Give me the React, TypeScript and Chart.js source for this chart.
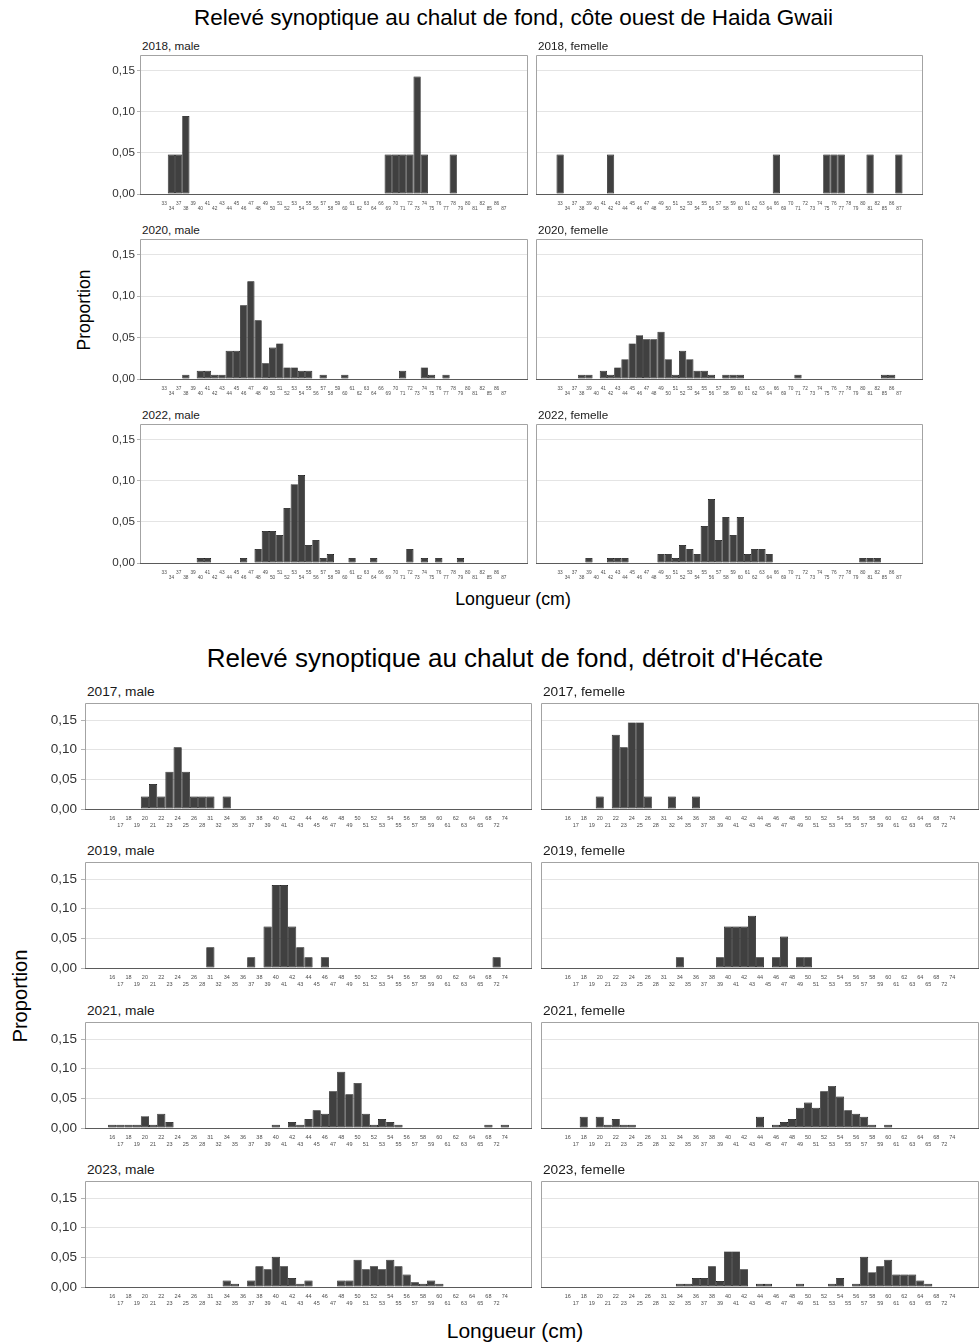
import React, { useEffect, useRef } from 'react';
import { Chart, registerables } from 'chart.js';

Chart.register(...registerables);

const FONT = '"Liberation Sans", Arial, Helvetica, sans-serif';

// ---------- categories (length classes, cm) ----------
const HG_LENGTHS = ['33','34','37','38','39','40','41','42','43','44','45','46','47','48','49','50','51','52','53','54','55','56','57','58','59','60','61','62','63','64','66','69','70','71','72','73','74','75','76','77','78','79','80','81','82','85','86','87'];
const HS_LENGTHS = ['16','17','18','19','20','21','22','23','24','25','26','28','31','32','34','35','36','37','38','39','40','41','42','43','44','45','46','47','48','49','50','51','52','53','54','55','56','57','58','59','60','61','62','63','64','65','68','72','74'];

const Y_TICKS = [0, 0.05, 0.1, 0.15];

// ---------- Haida Gwaii (côte ouest) : [longueur, proportion] ----------
const HG_2018_MALE = [[34,0.048],[37,0.048],[38,0.095],[69,0.048],[70,0.048],[71,0.048],[72,0.048],[73,0.143],[74,0.048],[78,0.048]];
const HG_2018_FEMELLE = [[33,0.048],[42,0.048],[66,0.048],[75,0.048],[76,0.048],[77,0.048],[81,0.048],[87,0.048]];
const HG_2020_MALE = [[38,0.005],[40,0.01],[41,0.01],[42,0.005],[43,0.005],[44,0.034],[45,0.034],[46,0.089],[47,0.118],[48,0.071],[49,0.019],[50,0.038],[51,0.043],[52,0.014],[53,0.014],[54,0.01],[55,0.01],[57,0.005],[60,0.005],[71,0.01],[74,0.014],[75,0.005],[77,0.005]];
const HG_2020_FEMELLE = [[38,0.005],[39,0.005],[41,0.01],[42,0.005],[43,0.014],[44,0.024],[45,0.043],[46,0.053],[47,0.048],[48,0.048],[49,0.057],[50,0.024],[51,0.005],[52,0.034],[53,0.024],[54,0.01],[55,0.01],[56,0.005],[58,0.005],[59,0.005],[60,0.005],[71,0.005],[85,0.005],[86,0.005]];
const HG_2022_MALE = [[40,0.006],[41,0.006],[46,0.006],[48,0.017],[49,0.039],[50,0.039],[51,0.034],[52,0.067],[53,0.096],[54,0.107],[55,0.022],[56,0.028],[57,0.006],[58,0.011],[61,0.006],[64,0.006],[72,0.017],[74,0.006],[76,0.006],[79,0.006]];
const HG_2022_FEMELLE = [[39,0.006],[42,0.006],[43,0.006],[44,0.006],[49,0.011],[50,0.011],[51,0.006],[52,0.022],[53,0.017],[54,0.011],[55,0.045],[56,0.078],[57,0.028],[58,0.056],[59,0.034],[60,0.056],[61,0.011],[62,0.017],[63,0.017],[64,0.011],[80,0.006],[81,0.006],[82,0.006]];

// ---------- Détroit d'Hécate : [longueur, proportion] ----------
const HS_2017_MALE = [[20,0.021],[21,0.042],[22,0.021],[23,0.063],[24,0.104],[25,0.063],[26,0.021],[28,0.021],[31,0.021],[34,0.021]];
const HS_2017_FEMELLE = [[20,0.021],[22,0.125],[23,0.104],[24,0.146],[25,0.146],[26,0.021],[32,0.021],[36,0.021]];
const HS_2019_MALE = [[31,0.035],[37,0.018],[39,0.07],[40,0.14],[41,0.14],[42,0.07],[43,0.035],[44,0.018],[46,0.018],[72,0.018]];
const HS_2019_FEMELLE = [[34,0.018],[39,0.018],[40,0.07],[41,0.07],[42,0.07],[43,0.088],[44,0.018],[46,0.018],[47,0.053],[49,0.018],[50,0.018]];
const HS_2021_MALE = [[16,0.0055],[17,0.0055],[18,0.0055],[19,0.0055],[20,0.02],[21,0.0055],[22,0.024],[23,0.01],[40,0.0055],[42,0.01],[43,0.0055],[44,0.015],[45,0.03],[46,0.024],[47,0.062],[48,0.095],[49,0.057],[50,0.076],[51,0.024],[52,0.0055],[53,0.015],[54,0.01],[55,0.0055],[68,0.0055],[74,0.0055]];
const HS_2021_FEMELLE = [[18,0.019],[20,0.019],[21,0.0055],[22,0.015],[23,0.0055],[24,0.0055],[44,0.019],[46,0.0055],[47,0.01],[48,0.015],[49,0.034],[50,0.043],[51,0.034],[52,0.062],[53,0.071],[54,0.053],[55,0.03],[56,0.024],[57,0.019],[58,0.0055],[60,0.0055]];
const HS_2023_MALE = [[34,0.011],[35,0.0055],[37,0.011],[38,0.035],[39,0.03],[40,0.051],[41,0.035],[42,0.015],[43,0.0055],[44,0.011],[48,0.011],[49,0.011],[50,0.046],[51,0.03],[52,0.035],[53,0.03],[54,0.046],[55,0.035],[56,0.021],[57,0.008],[58,0.0055],[59,0.011],[60,0.0055]];
const HS_2023_FEMELLE = [[34,0.0055],[35,0.0055],[36,0.015],[37,0.015],[38,0.035],[39,0.01],[40,0.06],[41,0.06],[42,0.03],[44,0.0055],[45,0.0055],[49,0.0055],[53,0.0055],[54,0.015],[56,0.0055],[57,0.051],[58,0.025],[59,0.035],[60,0.046],[61,0.021],[62,0.021],[63,0.021],[64,0.011],[65,0.0055]];

// ---------- text ----------
const HG_TITLE = 'Relevé synoptique au chalut de fond, côte ouest de Haida Gwaii';
const HS_TITLE = "Relevé synoptique au chalut de fond, détroit d'Hécate";
const X_TITLE = 'Longueur (cm)';
const Y_TITLE = 'Proportion';

const HG_PANELS = [
  { label: '2018, male', data: HG_2018_MALE },
  { label: '2018, femelle', data: HG_2018_FEMELLE },
  { label: '2020, male', data: HG_2020_MALE },
  { label: '2020, femelle', data: HG_2020_FEMELLE },
  { label: '2022, male', data: HG_2022_MALE },
  { label: '2022, femelle', data: HG_2022_FEMELLE },
];
const HS_PANELS = [
  { label: '2017, male', data: HS_2017_MALE },
  { label: '2017, femelle', data: HS_2017_FEMELLE },
  { label: '2019, male', data: HS_2019_MALE },
  { label: '2019, femelle', data: HS_2019_FEMELLE },
  { label: '2021, male', data: HS_2021_MALE },
  { label: '2021, femelle', data: HS_2021_FEMELLE },
  { label: '2023, male', data: HS_2023_MALE },
  { label: '2023, femelle', data: HS_2023_FEMELLE },
];

// ---------- layout (panel boxes in page px) ----------
const HG_STYLE = {
  cols: [[140, 527], [536, 922]],
  rows: [[55, 194], [239, 379], [424, 563]],
  yMax: 0.168, yw: 40, xh: 22, tl: 4, ypad: 2, yfont: 11.7,
  xfont: 4.8, xlh: '5.5px', xpad: 6.5, titleFont: 11.7, titleDy: 9.5, padc: 2.65,
};
const HS_STYLE = {
  cols: [[85, 531], [541, 978]],
  rows: [[703, 809], [862, 968], [1022, 1128], [1181, 1287]],
  yMax: 0.177, yw: 50, xh: 24, tl: 5, ypad: 4, yfont: 13.5,
  xfont: 5.5, xlh: '7px', xpad: 5.5, titleFont: 13.7, titleDy: 11.5, padc: 2.65,
};

const boxPlugin = {
  id: 'panelBox',
  afterDraw(chart: any) {
    const { ctx, chartArea: a } = chart;
    ctx.save();
    ctx.lineWidth = 1;
    ctx.strokeStyle = '#a3a3a3';
    ctx.beginPath();
    ctx.moveTo(a.left - 0.5, a.bottom + 0.5);
    ctx.lineTo(a.left - 0.5, a.top - 0.5);
    ctx.lineTo(a.right + 0.5, a.top - 0.5);
    ctx.lineTo(a.right + 0.5, a.bottom + 0.5);
    ctx.stroke();
    ctx.strokeStyle = '#5a5a5a';
    ctx.beginPath();
    ctx.moveTo(a.left - 1, a.bottom + 0.5);
    ctx.lineTo(a.right + 1, a.bottom + 0.5);
    ctx.stroke();
    ctx.restore();
  },
};

function Panel({ cats, pairs, box, st, showY }: any) {
  const ref = useRef<HTMLCanvasElement>(null);
  const [l, r, t, b] = box;
  const PT = 2, PR = 2;
  const caW = r - (l + 1);
  const caH = b - (t + 1);
  const W = st.yw + caW + PR;
  const H = PT + caH + st.xh;
  const left = l + 1 - st.yw;
  const top = t + 1 - PT;

  useEffect(() => {
    const points = pairs.map(([len, v]: number[]) => ({ x: cats.indexOf(String(len)), y: v }));
    const chart = new Chart(ref.current as HTMLCanvasElement, {
      type: 'bar',
      data: {
        datasets: [{
          data: points,
          backgroundColor: '#404040',
          borderColor: '#000000',
          borderWidth: 0.7,
          borderSkipped: false,
          barPercentage: 1,
          categoryPercentage: 1,
          inflateAmount: 0,
        } as any],
      },
      options: {
        responsive: false,
        maintainAspectRatio: false,
        animation: false,
        events: [],
        layout: { padding: { left: 0, top: PT, right: PR, bottom: 0 } },
        plugins: { legend: { display: false }, tooltip: { enabled: false }, title: { display: false } },
        scales: {
          x: {
            type: 'linear',
            min: -st.padc,
            max: cats.length - 1 + st.padc,
            afterBuildTicks: (sc: any) => { sc.ticks = cats.map((_: string, i: number) => ({ value: i })); },
            afterFit: (sc: any) => { sc.height = st.xh; sc.paddingLeft = 0; sc.paddingRight = 0; },
            grid: { display: false, drawTicks: false },
            border: { display: false },
            ticks: {
              autoSkip: false, maxRotation: 0, minRotation: 0, padding: st.xpad, color: '#4d4d4d',
              font: { family: FONT, size: st.xfont, lineHeight: st.xlh },
              callback: (_v: any, i: number) => (i % 2 === 0 ? [cats[i], ''] : ['', cats[i]]),
            },
          },
          y: {
            type: 'linear',
            min: 0,
            max: st.yMax,
            afterBuildTicks: (sc: any) => { sc.ticks = Y_TICKS.map((v) => ({ value: v })); },
            afterFit: (sc: any) => { sc.width = st.yw; sc.paddingTop = 0; sc.paddingBottom = 0; },
            grid: { color: '#e4e4e4', lineWidth: 1, drawTicks: showY, tickLength: st.tl, tickColor: '#b3b3b3' },
            border: { display: false },
            ticks: {
              display: showY,
              padding: st.ypad, color: '#333333',
              font: { family: FONT, size: st.yfont },
              callback: (v: any) => Number(v).toFixed(2).replace('.', ','),
            },
          },
        },
      } as any,
      plugins: [boxPlugin],
    });
    return () => chart.destroy();
  }, []);

  return (
    <canvas
      ref={ref}
      width={W}
      height={H}
      style={{ position: 'absolute', left, top, width: W, height: H }}
    />
  );
}

function CenterText({ x, y, size, text, rotate }: any) {
  return (
    <div style={{
      position: 'absolute', left: x, top: y, fontFamily: FONT, fontSize: size, lineHeight: 1,
      whiteSpace: 'nowrap', color: '#000',
      transform: `translate(-50%, -50%)${rotate ? ' rotate(-90deg)' : ''}`,
    }}>{text}</div>
  );
}

function Figure({ panels, cats, st }: any) {
  return (
    <>
      {panels.map((p: any, k: number) => {
        const row = Math.floor(k / 2);
        const col = k % 2;
        const [l, r] = st.cols[col];
        const [t, b] = st.rows[row];
        return (
          <React.Fragment key={p.label}>
            <Panel cats={cats} pairs={p.data} box={[l, r, t, b]} st={st} showY={col === 0} />
            <div style={{
              position: 'absolute', left: l + 2, top: t - st.titleDy, transform: 'translateY(-50%)',
              fontFamily: FONT, fontSize: st.titleFont, lineHeight: 1, whiteSpace: 'nowrap', color: '#1a1a1a',
            }}>{p.label}</div>
          </React.Fragment>
        );
      })}
    </>
  );
}

export default function App() {
  return (
    <div style={{ position: 'absolute', left: 0, top: 0, width: 980, height: 1343, background: '#fff', overflow: 'hidden' }}>
      <CenterText x={513.5} y={18} size={22.5} text={HG_TITLE} />
      <CenterText x={85} y={310} size={17.5} text={Y_TITLE} rotate />
      <CenterText x={513} y={600} size={17.8} text={X_TITLE} />
      <Figure panels={HG_PANELS} cats={HG_LENGTHS} st={HG_STYLE} />

      <CenterText x={515} y={658} size={26} text={HS_TITLE} />
      <CenterText x={20} y={996} size={20.2} text={Y_TITLE} rotate />
      <CenterText x={515} y={1330} size={21} text={X_TITLE} />
      <Figure panels={HS_PANELS} cats={HS_LENGTHS} st={HS_STYLE} />
    </div>
  );
}
